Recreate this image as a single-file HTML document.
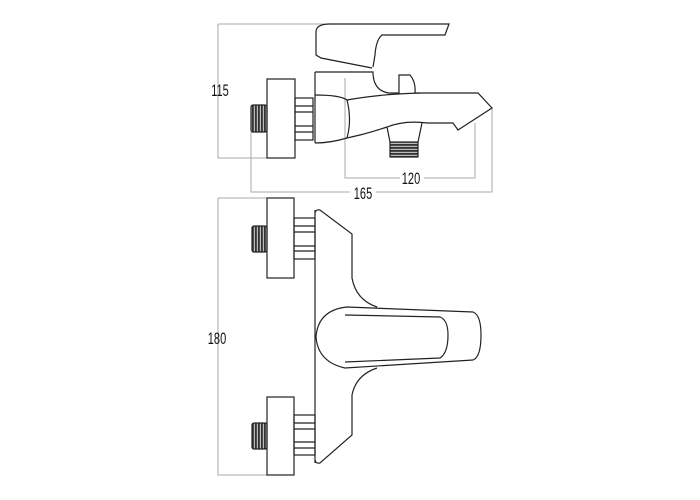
<!DOCTYPE html>
<html><head><meta charset="utf-8"><style>
html,body{margin:0;padding:0;background:#fff;}
svg{display:block;}
text{font-family:"Liberation Sans",sans-serif;font-size:17px;fill:#111;}
</style></head><body>
<svg width="700" height="500" viewBox="0 0 700 500" xmlns="http://www.w3.org/2000/svg">
<defs>
<pattern id="thr" width="3" height="3" patternUnits="userSpaceOnUse">
<rect width="3" height="3" fill="#bbb"/><rect width="1.8" height="3" fill="#333"/>
</pattern>
<pattern id="thrh" width="3" height="3" patternUnits="userSpaceOnUse">
<rect width="3" height="3" fill="#bbb"/><rect width="3" height="1.8" fill="#333"/>
</pattern>
</defs>
<g stroke="#aaa" stroke-width="1" fill="none">
<path d="M218 24H343M218 24V158H268"/>
<path d="M345 78V178H400M424 178H475V123"/>
<path d="M251 132V192H350M376 192H492V108"/>
<path d="M218 198H268M218 198V475H268"/>
</g>
<g text-anchor="middle">
<text transform="translate(220,96) scale(0.65,1)">115</text>
<text transform="translate(411,184) scale(0.65,1)">120</text>
<text transform="translate(363,199) scale(0.65,1)">165</text>
<text transform="translate(217,344) scale(0.65,1)">180</text>
</g>
<g stroke="#222" stroke-width="1.2" fill="none">
<rect x="267" y="79" width="28" height="79" fill="#fff"/>
<rect x="251" y="105" width="16" height="27" fill="url(#thr)" rx="2"/>
<rect x="295" y="98" width="18" height="42"/>
<path d="M295 106H313M295 112H313M295 126H313M295 132H313"/>
<path d="M315 72V143"/>
<path d="M316 31Q317 24 330 24H449L445 35H382Q376 40 375 55L373 67"/>
<path d="M316 31V55L321 58L372 68"/>
<path d="M315 72H373Q373 90 388 93H399V75H410Q416 82 415 93H478L492 108L458 130L453 123H427Q405 120 387 127Q372 132 360 135L347 138Q330 143 315 143"/>
<path d="M315 95Q340 95 347 100Q352 120 347 138"/>
<path d="M347 100Q380 94 420 93"/>
<path d="M387 127L390 142M422 123L418 142"/>
<rect x="390" y="142" width="28" height="15" fill="url(#thrh)"/>
</g>
<g stroke="#222" stroke-width="1.2" fill="none">
<rect x="267" y="198" width="27" height="80"/>
<rect x="252" y="226" width="15" height="26" fill="url(#thr)" rx="2"/>
<rect x="294" y="218" width="21" height="41"/>
<path d="M294 226H315M294 232H315M294 246H315M294 251H315"/>
<rect x="267" y="397" width="27" height="78"/>
<rect x="252" y="423" width="15" height="26" fill="url(#thr)" rx="2"/>
<rect x="294" y="415" width="21" height="40"/>
<path d="M294 423H315M294 429H315M294 442H315M294 448H315"/>
<path d="M315 213Q316 209 320 210L352 234V278Q356 300 377 307"/>
<path d="M377 368Q356 375 352 395V435L320 463Q316 464 315 460"/>
<path d="M315 210V463"/>
<path d="M347 307L473 312Q481 315 481 335Q481 357 473 360L345 368Q318 362 316 337Q318 310 347 307Z"/>
<path d="M345 315L440 317Q448 320 448 335Q448 353 440 358L345 362"/>
</g>
</svg>
</body></html>
